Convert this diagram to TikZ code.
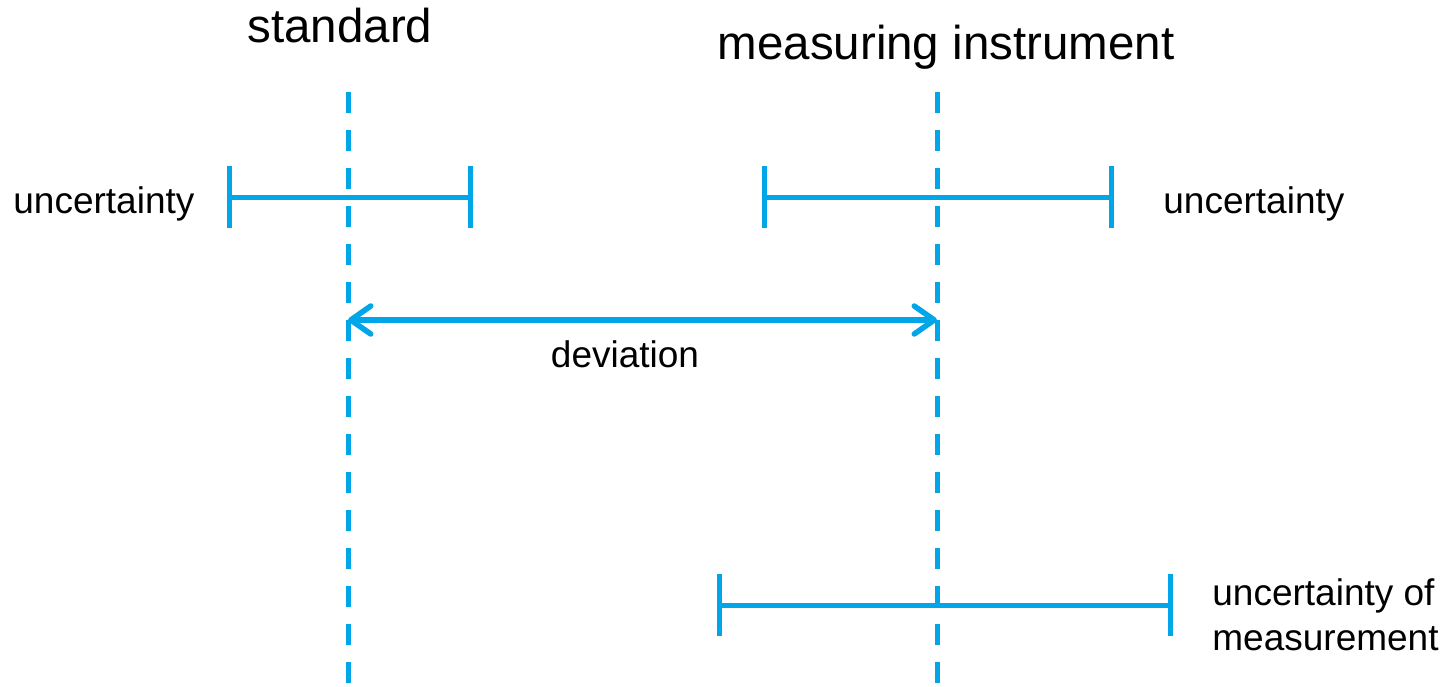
\documentclass[tikz,border=0pt]{standalone}
\usepackage{fontspec}
\setmainfont{Liberation Sans}
\usetikzlibrary{arrows.meta,positioning}
\definecolor{barblue}{RGB}{0,166,232}
\tikzset{
  refline/.style = {draw=barblue, line width=2.5pt, dash pattern=on 10.5pt off 8.5pt},
  ubar/.style    = {draw=barblue, line width=2.5pt},
  utick/.style   = {draw=barblue, line width=2.5pt},
  dev/.style     = {{Straight Barb[length=10pt,width=14pt,round]}-{Straight Barb[length=10pt,width=14pt,round]},
                    draw=barblue, line width=2.75pt},
  title/.style   = {inner sep=0pt, anchor=base, font=\fontsize{23.75}{28}\selectfont},
  lbl/.style     = {inner sep=0pt, font=\fontsize{18.5}{22.5}\selectfont}
}

\begin{document}
\begin{tikzpicture}[x=0.5pt,y=-0.5pt]
  \useasboundingbox (0,0) rectangle (1447,686);

  % reference lines
  \node[title] (std) at (340,42) {standard};
  \node[title] (ins) at (946,59) {measuring instrument};
  \coordinate (stdtop) at (348,92);
  \coordinate (stdbot) at (348,686);
  \coordinate (instop) at (937,92);
  \coordinate (insbot) at (937,686);
  \draw[refline] (stdtop) -- (stdbot);
  \draw[refline] (instop) -- (insbot);

  % uncertainty bars
  \coordinate (sl) at (229,197);
  \coordinate (sr) at (470,197);
  \coordinate (il) at (764,197);
  \coordinate (ir) at (1111,197);
  \coordinate (ml) at (719,605);
  \coordinate (mr) at (1170,605);
  \foreach \a/\b in {sl/sr, il/ir, ml/mr} {
    \draw[ubar] (\a) -- (\b);
    \draw[utick] ([yshift=15.5pt]\a) -- ([yshift=-15.5pt]\a);
    \draw[utick] ([yshift=15.5pt]\b) -- ([yshift=-15.5pt]\b);
  }
  \node[lbl, anchor=base west] (usl) at (13,213) {uncertainty};
  \node[lbl, anchor=base west] (uil) at (1163,213) {uncertainty};
  \node[lbl, anchor=base west, align=left] (uml) at (1212,650) {uncertainty of\\measurement};

  % deviation
  \coordinate (dl) at (348,320);
  \coordinate (dr) at (937,320);
  \draw[dev] (dl) -- (dr);
  \node[lbl, anchor=base] (devl) at (625,367) {deviation};
\end{tikzpicture}
\end{document}
